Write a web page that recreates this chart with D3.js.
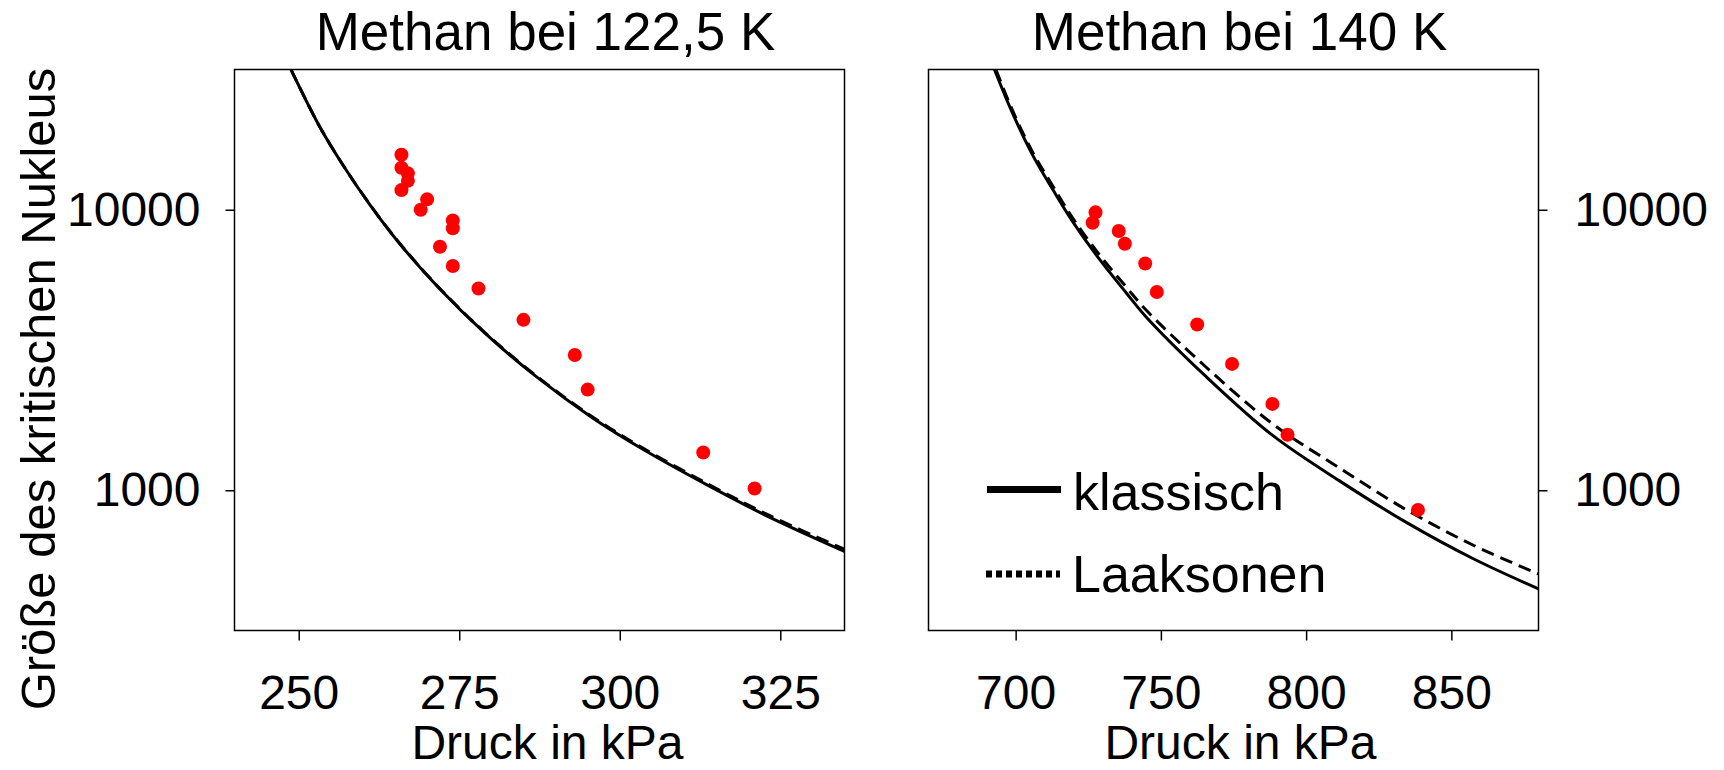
<!DOCTYPE html>
<meta charset="utf-8">
<title>Methan - kritischer Nukleus</title>
<style>
html, body { margin: 0; padding: 0; background: #fff; }
svg { display: block; font-family: "Liberation Sans", Arial, sans-serif; }
.box { fill: none; stroke: #000; stroke-width: 1.5px; }
.tick line { stroke: #000; stroke-width: 1.5px; }
.tick text { font-size: 48px; fill: #000; }
.curve { fill: none; stroke: #000; stroke-width: 3px; }
.dashed { stroke-dasharray: 13, 7; }
.dot { fill: #ff0000; }
</style>
<body>
<script src="https://cdnjs.cloudflare.com/ajax/libs/d3/7.8.5/d3.min.js"></script>
<script>

// ---- data ----
var titles = ["Methan bei 122,5 K", "Methan bei 140 K"];
var xLabel = "Druck in kPa";
var yLabel = "Größe des kritischen Nukleus";
var legendLabels = ["klassisch", "Laaksonen"];

var xTicks122 = [250, 275, 300, 325];
var xTicks140 = [700, 750, 800, 850];
var yTicks = [1000, 10000];

// 122,5 K
var dots122P = [266, 266, 267, 267, 266, 270, 269, 274, 274, 272, 274, 278, 285, 293, 295, 313, 321];
var dots122N = [15700, 14110, 13480, 12680, 11750, 10890, 10000, 9160, 8590, 7380, 6300, 5240, 4050, 3035, 2285, 1363, 1015];

var klass122P = [248.8, 253.1, 256.8, 261.1, 265.7, 271.9, 279.0, 287.0, 295.6, 303.6, 314.1, 323.3, 335];
var klass122N = [31600, 20100, 14530, 10410, 7580, 5240, 3630, 2540, 1822, 1400, 1030, 802, 605];
var laak122P  = [248.8, 253.1, 256.8, 261.1, 265.7, 271.9, 279.0, 287.0, 295.6, 303.6, 314.1, 323.3, 335];
var laak122N  = [31600, 20100, 14550, 10430, 7600, 5260, 3648, 2556, 1836, 1413, 1042, 813, 616];

// 140 K
var dots140P = [727.5, 726.5, 735.5, 737.6, 744.6, 748.6, 762.5, 774.5, 788.4, 793.6, 838.5];
var dots140N = [9790, 8990, 8400, 7560, 6435, 5090, 3900, 2821, 2032, 1578, 851];

var klass140P = [692.7, 699, 705.9, 712.8, 719.7, 728.9, 738.1, 745, 765.6, 788.6, 811.5, 834.5, 857.4, 880];
var klass140N = [31620, 22000, 15630, 11800, 9050, 6650, 5050, 4140, 2540, 1565, 1080, 768, 571, 445];
var laak140P  = [693.2, 699, 705.9, 712.8, 719.7, 728.9, 738.1, 745, 765.6, 788.6, 811.5, 834.5, 857.4, 880];
var laak140N  = [31620, 22500, 16000, 12150, 9320, 6900, 5300, 4380, 2745, 1720, 1200, 852, 638, 503];

// ---- layout ----
var width = 1724, height = 770;
var plotTop = 69.5, plotH = 561, plotW = 610;

var svg = d3.select("body").append("svg")
    .attr("width", width)
    .attr("height", height);

var y = d3.scaleLog()
    .domain([Math.pow(10, 2.5), Math.pow(10, 4.5)])
    .range([plotTop + plotH, plotTop]);

var panels = [
  { id: "p122", x0: 234.5, domain: [240, 335], ticks: xTicks122, title: titles[0], side: "left",
    dotsP: dots122P, dotsN: dots122N, kP: klass122P, kN: klass122N, lP: laak122P, lN: laak122N,
    titleDx: 6, labelDx: 8 },
  { id: "p140", x0: 928.5, domain: [670, 880], ticks: xTicks140, title: titles[1], side: "right",
    dotsP: dots140P, dotsN: dots140N, kP: klass140P, kN: klass140N, lP: laak140P, lN: laak140N,
    titleDx: 6, labelDx: 7 }
];

panels.forEach(function(pn) {
  var x = d3.scaleLinear().domain(pn.domain).range([pn.x0, pn.x0 + plotW]);
  var cx = pn.x0 + plotW / 2;

  svg.append("clipPath").attr("id", "clip-" + pn.id)
    .append("rect")
      .attr("x", pn.x0).attr("y", plotTop)
      .attr("width", plotW).attr("height", plotH);

  var line = d3.line()
      .x(function(d) { return x(d[0]); })
      .y(function(d) { return y(d[1]); })
      .curve(d3.curveCatmullRom.alpha(0.5));

  var g = svg.append("g").attr("clip-path", "url(#clip-" + pn.id + ")");

  g.append("path")
      .datum(d3.zip(pn.kP, pn.kN))
      .attr("class", "curve")
      .attr("d", line);

  g.append("path")
      .datum(d3.zip(pn.lP, pn.lN))
      .attr("class", "curve dashed")
      .attr("d", line);

  g.selectAll(".dot")
      .data(d3.zip(pn.dotsP, pn.dotsN))
    .enter().append("circle")
      .attr("class", "dot")
      .attr("cx", function(d) { return x(d[0]); })
      .attr("cy", function(d) { return y(d[1]); })
      .attr("r", 7);

  // box
  svg.append("rect")
      .attr("class", "box")
      .attr("x", pn.x0).attr("y", plotTop)
      .attr("width", plotW).attr("height", plotH);

  // x axis
  svg.append("g")
      .attr("transform", "translate(0," + (plotTop + plotH) + ")")
      .call(d3.axisBottom(x).tickValues(pn.ticks).tickSize(10).tickPadding(34))
      .call(function(a) { a.select(".domain").remove(); });

  // y axis
  if (pn.side === "left") {
    svg.append("g")
        .attr("transform", "translate(" + pn.x0 + ",0)")
        .call(d3.axisLeft(y).tickValues(yTicks).tickFormat(d3.format("d")).tickSize(9).tickPadding(25))
        .call(function(a) { a.select(".domain").remove(); });
  } else {
    svg.append("g")
        .attr("transform", "translate(" + (pn.x0 + plotW) + ",0)")
        .call(d3.axisRight(y).tickValues(yTicks).tickFormat(d3.format("d")).tickSize(9).tickPadding(27))
        .call(function(a) { a.select(".domain").remove(); });
  }
  svg.selectAll(".tick text").attr("font-family", null).attr("font-size", null);

  // title + x label
  svg.append("text")
      .attr("x", cx + pn.titleDx).attr("y", 50)
      .attr("text-anchor", "middle")
      .style("font-size", "53px")
      .text(pn.title);

  svg.append("text")
      .attr("x", cx + pn.labelDx).attr("y", 759)
      .attr("text-anchor", "middle")
      .style("font-size", "48px")
      .text(xLabel);
});

// y label
svg.append("text")
    .attr("transform", "translate(55,389) rotate(-90)")
    .attr("text-anchor", "middle")
    .style("font-size", "49px")
    .text(yLabel);

// legend (inside the 140 K panel)
var legend = svg.append("g");
legend.append("line")
    .attr("x1", 987).attr("x2", 1061).attr("y1", 489.5).attr("y2", 489.5)
    .attr("stroke", "#000").attr("stroke-width", 7);
legend.append("line")
    .attr("x1", 986).attr("x2", 1060).attr("y1", 574).attr("y2", 574)
    .attr("stroke", "#000").attr("stroke-width", 7).attr("stroke-dasharray", "6,4");
legend.append("text")
    .attr("x", 1073).attr("y", 510)
    .style("font-size", "52px")
    .text(legendLabels[0]);
legend.append("text")
    .attr("x", 1072).attr("y", 591.5)
    .style("font-size", "52px")
    .text(legendLabels[1]);

</script>
</body>
